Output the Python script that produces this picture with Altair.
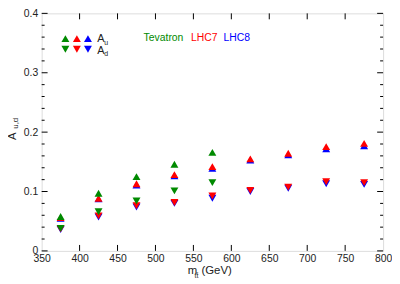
import altair as alt
import pandas as pd

# ---- data ----
mass_tev = [375, 425, 475, 525, 575]
tev_au = [0.058, 0.097, 0.125, 0.146, 0.166]
tev_ad = [0.038, 0.066, 0.084, 0.101, 0.115]

mass_lhc = [375, 425, 475, 525, 575, 625, 675, 725, 775]
lhc7_au = [0.056, 0.0886, 0.113, 0.1285, 0.142, 0.155, 0.1645, 0.1756, 0.181]
lhc7_ad = [0.037, 0.059, 0.076, 0.0815, 0.0925, 0.102, 0.1075, 0.1164, 0.115]
lhc8_au = [0.055, 0.0875, 0.111, 0.1265, 0.139, 0.153, 0.162, 0.172, 0.177]
lhc8_ad = [0.036, 0.057, 0.074, 0.080, 0.0886, 0.100, 0.1055, 0.113, 0.112]

x_ticks = [350, 400, 450, 500, 550, 600, 650, 700, 750, 800]
y_ticks = [0, 0.1, 0.2, 0.3, 0.4]
y_minor = [0.02, 0.04, 0.06, 0.08, 0.12, 0.14, 0.16, 0.18, 0.22, 0.24, 0.26, 0.28,
           0.32, 0.34, 0.36, 0.38]

GREEN = "#008a00"
RED = "#ff0000"
BLUE = "#0000ff"
W, H = 345, 240
FONT = "Liberation Sans"

xs = alt.Scale(domain=[350, 800], nice=False, zero=False)
ys = alt.Scale(domain=[0, 0.4], nice=False)

xaxis = alt.Axis(values=x_ticks, tickSize=0, domain=False, grid=False,
                 labelPadding=3, labelFontSize=10.5, labelColor="#222",
                 labelFont=FONT, labelFlush=False, labelOverlap=False)
yaxis = alt.Axis(values=y_ticks, tickSize=0, domain=False, grid=False,
                 format=".1~f", labelPadding=4, labelFontSize=10.5,
                 labelColor="#222", labelFont=FONT, labelFlush=False,
                 labelOverlap=False)


def X(field="m"):
    return alt.X(f"{field}:Q", scale=xs, axis=xaxis, title=None)


def Y(field="v"):
    return alt.Y(f"{field}:Q", scale=ys, axis=yaxis, title=None)


def series_df(m, au, ad):
    rows = [{"m": a, "v": b, "k": "up"} for a, b in zip(m, au)]
    rows += [{"m": a, "v": b, "k": "down"} for a, b in zip(m, ad)]
    return pd.DataFrame(rows)


shape_scale = alt.Scale(domain=["up", "down"], range=["triangle-up", "triangle-down"])


def pts(df, color):
    return alt.Chart(df).mark_point(filled=True, opacity=1, size=64, strokeWidth=0,
                                    color=color).encode(
        x=X(), y=Y(),
        shape=alt.Shape("k:N", scale=shape_scale, legend=None),
    )


ymaj = pd.DataFrame({"v": y_ticks})
ymin = pd.DataFrame({"v": y_minor})
xmaj = pd.DataFrame({"m": x_ticks[1:-1]})

tick_col = "#000"
ticks = [
    alt.Chart(ymaj).mark_rule(color=tick_col).encode(y=Y(), x=alt.value(0), x2=alt.value(6)),
    alt.Chart(ymin).mark_rule(color=tick_col).encode(y=Y(), x=alt.value(0), x2=alt.value(3)),
    alt.Chart(ymaj).mark_rule(color=tick_col).encode(y=Y(), x=alt.value(W), x2=alt.value(W - 6)),
    alt.Chart(ymin).mark_rule(color=tick_col).encode(y=Y(), x=alt.value(W), x2=alt.value(W - 3)),
    alt.Chart(xmaj).mark_rule(color=tick_col).encode(x=X(), y=alt.value(H), y2=alt.value(H - 6)),
    alt.Chart(xmaj).mark_rule(color=tick_col).encode(x=X(), y=alt.value(0), y2=alt.value(6)),
]


def txt(t, x, y, size, color="#222", angle=0, align="left", baseline="alphabetic"):
    kw = dict(text=t, fontSize=size, color=color, font=FONT, align=align, baseline=baseline)
    if angle:
        kw["angle"] = angle
    return alt.Chart(pd.DataFrame({"d": [0]})).mark_text(**kw).encode(
        x=alt.value(x), y=alt.value(y))


def sym(shape, color, x, y):
    return alt.Chart(pd.DataFrame({"d": [0]})).mark_point(
        shape=shape, filled=True, opacity=1, size=64, strokeWidth=0, color=color
    ).encode(x=alt.value(x), y=alt.value(y))


annot = [
    # axis titles
    txt("A", -28.5, 124, 11.5, angle=270, align="center", baseline="middle"),
    txt("u,d", -26, 111, 8, angle=270, align="center", baseline="middle"),
    txt("m", 147.5, 263.5, 11.5),
    txt("tt\u0304", 154.5, 267, 7),
    txt("(GeV)", 161.5, 263.5, 11.5),
    # legend
    sym("triangle-up", GREEN, 24, 25.5), sym("triangle-up", RED, 35.6, 25.5), sym("triangle-up", BLUE, 46.8, 25.5),
    sym("triangle-down", GREEN, 24, 36.3), sym("triangle-down", RED, 35.6, 36.3), sym("triangle-down", BLUE, 46.8, 36.3),
    txt("A", 56.3, 29.3, 11), txt("u", 63.2, 31.6, 7),
    txt("A", 56.3, 41, 11), txt("d", 63.2, 43.3, 7),
    txt("Tevatron", 103, 27.5, 10.5, color=GREEN),
    txt("LHC7", 151, 27.5, 10.5, color=RED),
    txt("LHC8", 183.7, 27.5, 10.5, color=BLUE),
]

layers = ticks + [
    pts(series_df(mass_lhc, lhc8_au, lhc8_ad), BLUE),
    pts(series_df(mass_lhc, lhc7_au, lhc7_ad), RED),
    pts(series_df(mass_tev, tev_au, tev_ad), GREEN),
] + annot

chart = alt.layer(*layers).properties(
    width=W, height=H,
    autosize=alt.AutoSizeParams(type="none"),
    padding={"left": 34, "top": 4, "right": 9, "bottom": 30},
).configure_view(stroke="#000", strokeWidth=1).configure(background="white")

chart.save("out.html", embed_options={"renderer": "svg", "actions": False})
